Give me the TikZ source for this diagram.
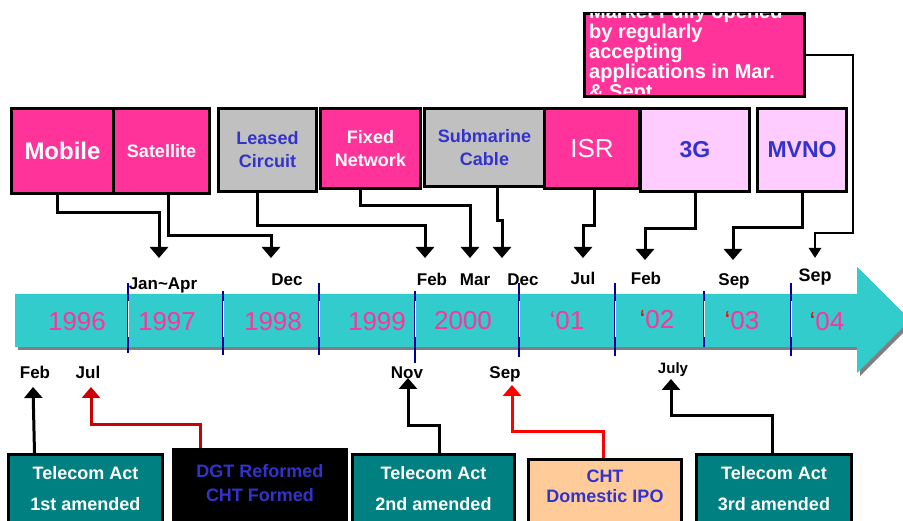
\documentclass[tikz,border=0pt]{standalone}
\usepackage{fontspec}
\setmainfont{Liberation Sans}
\usetikzlibrary{arrows.meta, positioning}

\definecolor{hotpink}{HTML}{FF3399}
\definecolor{boxgray}{HTML}{C0C0C0}
\definecolor{lilac}{HTML}{FFCCFF}
\definecolor{textblue}{HTML}{3333CC}
\definecolor{actteal}{HTML}{008080}
\definecolor{peach}{HTML}{FFCC99}
\definecolor{bandteal}{HTML}{33CCCC}
\definecolor{sepblue}{HTML}{000099}
\definecolor{darkred}{HTML}{CC0000}

\tikzset{
    topbox/.style={draw=black, line width=3pt, anchor=north west, inner sep=0pt,
        align=center, font=\bfseries\fontsize{18}{23}\selectfont},
    pinkbox/.style={topbox, fill=hotpink, text=white},
    graybox/.style={topbox, fill=boxgray, text=textblue},
    lilacbox/.style={topbox, fill=lilac, text=textblue, font=\bfseries\fontsize{23}{27}\selectfont},
    actbox/.style={draw=black, line width=3pt, anchor=north west, inner sep=0pt,
        fill=actteal, text=white, align=center, font=\bfseries\fontsize{18}{31}\selectfont},
    conn/.style={line width=3pt, -{Triangle[width=18pt,length=11pt]}},
    month/.style={anchor=base, font=\bfseries\fontsize{17}{20}\selectfont},
    year/.style={anchor=base, text=hotpink, font=\fontsize{26}{30}\selectfont}
}

\begin{document}
\begin{tikzpicture}[x=1pt, y=-1pt]
    \useasboundingbox (0,0) rectangle (903,521);

    % Time band with its shadow
    \fill[gray] (18,297) -- (860,297) -- (860,270) -- (913,323) -- (860,376) -- (860,350) -- (18,350) -- cycle;
    \fill[bandteal] (15,294) -- (857,294) -- (857,267) -- (910,320) -- (857,373) -- (857,347) -- (15,347) -- cycle;

    % Year separators
    \foreach \x/\a/\b in {128/283/353, 223/291/355, 319/283/355, 415/291/363,
                          519/283/357, 615/283/356, 704/291/347, 791/283/356} {
        \draw[sepblue, line width=2pt] (\x,\a) -- (\x,\b);
        \draw[white, line width=1pt] (\x,301) -- (\x,337);
    }

    % Years
    \node[year] (y96) at (77,331) {1996};
    \node[year] (y97) at (167,331) {1997};
    \node[year] (y98) at (273,331) {1998};
    \node[year] (y99) at (377,331) {1999};
    \node[year] (y00) at (463,330) {2000};
    \node[year] (y01) at (567,330) {‘01};
    \node[year] (y02) at (657,329) {{\color{red}‘}02};
    \node[year] (y03) at (742,330) {{\color{red}‘}03};
    \node[year] (y04) at (827,331) {{\color{red}‘}04};

    % Months above the band
    \node[month] (mJanApr) at (163,290) {Jan\textasciitilde Apr};
    \node[month] (mDec98) at (287,286) {Dec};
    \node[month] (mFeb00) at (432,286) {Feb};
    \node[month] (mMar00) at (475,286) {Mar};
    \node[month] (mDec00) at (523,286) {Dec};
    \node[month] (mJul01) at (583,285) {Jul};
    \node[month] (mFeb02) at (646,285) {Feb};
    \node[month] (mSep03) at (734,286) {Sep};
    \node[month, font=\bfseries\fontsize{18}{20}\selectfont] (mSep04) at (815,282) {Sep};

    % Months below the band
    \node[month] (mFeb96) at (35,379) {Feb};
    \node[month] (mJul97) at (88,379) {Jul};
    \node[month] (mNov99) at (407,379) {Nov};
    \node[month] (mSep00) at (505,379) {Sep};
    \node[month, font=\bfseries\fontsize{15}{18}\selectfont] (mJul02) at (673,374) {July};

    % Arrow ends
    \coordinate (tJan97) at (159,258);
    \coordinate (tDec98) at (271,258);
    \coordinate (tFeb00) at (425,258);
    \coordinate (tMar00) at (470,258);
    \coordinate (tDec00) at (502,258);
    \coordinate (tJul01) at (583,258);
    \coordinate (tFeb02) at (645,260);
    \coordinate (tSep03) at (733,260);
    \coordinate (tSep04) at (815,258);
    \coordinate (tFeb96) at (33,387);
    \coordinate (tJul97) at (91,387);
    \coordinate (tNov99) at (408,378);
    \coordinate (tSep00) at (512,385);
    \coordinate (tJul02) at (671,379);

    % Services opened
    \node[pinkbox, minimum width=102pt, minimum height=85pt, font=\bfseries\fontsize{24}{28}\selectfont] (mobile) at (10,107) {Mobile};
    \node[pinkbox, minimum width=96pt, minimum height=85pt] (satellite) at (112,107) {Satellite};
    \node[graybox, minimum width=98pt, minimum height=83pt] (leased) at (217,107) {Leased\\Circuit};
    \node[pinkbox, minimum width=100pt, minimum height=80pt] (fixed) at (319,107) {Fixed\\Network};
    \node[graybox, minimum width=120pt, minimum height=78pt] (submarine) at (423,107) {Submarine\\Cable};
    \node[pinkbox, minimum width=95pt, minimum height=80pt, font=\fontsize{26}{30}\selectfont] (isr) at (543,107) {ISR};
    \node[lilacbox, minimum width=109pt, minimum height=83pt] (threeg) at (639,107) {3G};
    \node[lilacbox, minimum width=89pt, minimum height=83pt] (mvno) at (756,107) {MVNO};

    % Market box, text cut by its frame
    \node[topbox, fill=hotpink, minimum width=220pt, minimum height=83pt] (market) at (583,12) {};
    \begin{scope}
        \clip (584.5,13.5) rectangle (801.5,93.5);
        \node[anchor=north west, inner sep=0pt, align=left, text=white,
              font=\bfseries\fontsize{20}{20}\selectfont] (markettext) at (589,3.5)
              {Market Fully opened\\by regularly\\accepting\\applications in Mar.\\\& Sept.};
    \end{scope}

    % Connectors down to the band
    \draw[conn] ([xshift=-5pt]mobile.south) -- ++(0,18) -| (tJan97);
    \draw[conn] ([xshift=7pt]satellite.south) -- ++(0,41) -| (tDec98);
    \draw[conn] ([xshift=-10pt]leased.south) -- ++(0,33) -| (tFeb00);
    \draw[conn] ([xshift=-10pt]fixed.south) -- ++(0,16) -| (tMar00);
    \draw[conn] ([xshift=13pt]submarine.south) -- ++(0,33) -| (tDec00);
    \draw[conn] ([xshift=2.5pt]isr.south) -- ++(0,36) -| (tJul01);
    \draw[conn] (threeg.south) -- ++(0,36) -| (tFeb02);
    \draw[conn] (mvno.south) -- ++(0,35) -| (tSep03);
    \draw[conn, line width=2.6pt, -{Triangle[width=12pt,length=10pt]}] (market.east) -| (853,233) -| (tSep04);

    % Regulation events
    \node[actbox, minimum width=154pt, minimum height=68pt] (act1) at (7,453) {Telecom Act\\1st amended};
    \node[actbox, fill=black, text=textblue, minimum width=173pt, minimum height=75pt,
          font=\bfseries\fontsize{18}{24}\selectfont] (dgt) at (172,448) {DGT Reformed\\CHT Formed\\[-16pt]\mbox{}};
    \node[actbox, minimum width=162pt, minimum height=68pt] (act2) at (351,453) {Telecom Act\\2nd amended};
    \node[actbox, fill=peach, text=textblue, minimum width=153pt, minimum height=63pt,
          font=\bfseries\fontsize{18}{20}\selectfont] (cht) at (527,458) {CHT\\Domestic IPO\\[-10pt]\mbox{}};
    \node[actbox, minimum width=155pt, minimum height=68pt] (act3) at (695,453) {Telecom Act\\3rd amended};

    % Connectors up to the band
    \draw[conn] ([xshift=-51pt]act1.north) -- (tFeb96);
    \draw[conn, darkred] ([xshift=-59.5pt]dgt.north) -- ++(0,-23) -| (tJul97);
    \draw[conn] ([xshift=6pt]act2.north) -- ++(0,-27) -| (tNov99);
    \draw[conn, red] ([xshift=-1.5pt]cht.north) -- ++(0,-26) -| (tSep00);
    \draw[conn] ([xshift=-1.5pt]act3.north) -- ++(0,-37) -| (tJul02);
\end{tikzpicture}
\end{document}
